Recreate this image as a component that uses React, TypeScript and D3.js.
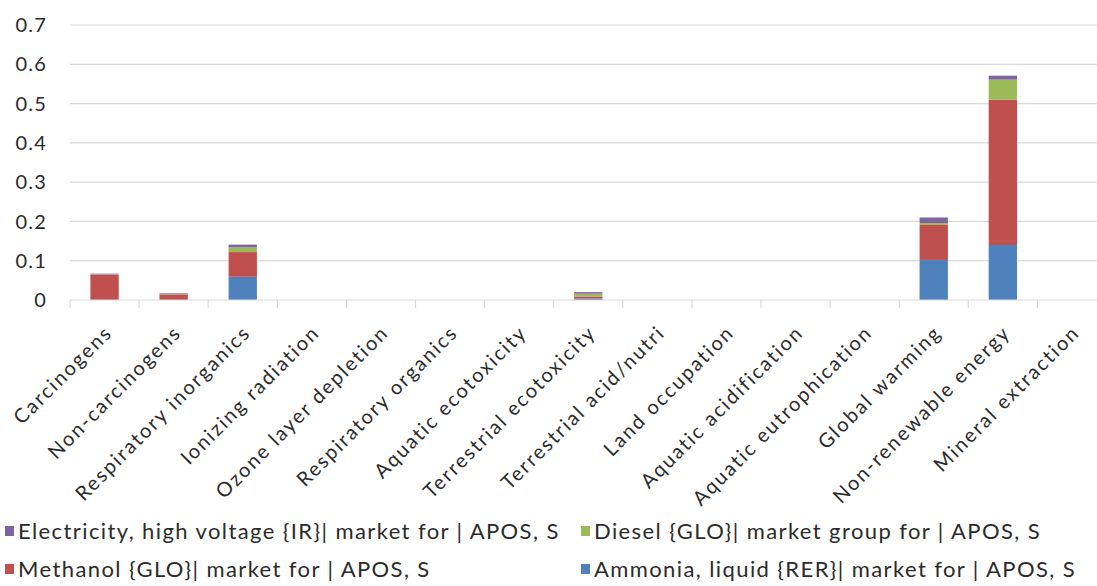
import React, { useEffect } from "react";
import * as d3 from "d3";

const categories = [
  "Carcinogens",
  "Non-carcinogens",
  "Respiratory inorganics",
  "Ionizing radiation",
  "Ozone layer depletion",
  "Respiratory organics",
  "Aquatic ecotoxicity",
  "Terrestrial ecotoxicity",
  "Terrestrial acid/nutri",
  "Land occupation",
  "Aquatic acidification",
  "Aquatic eutrophication",
  "Global warming",
  "Non-renewable energy",
  "Mineral extraction",
];

// Stacked contributions per impact category (bottom to top)
const ammonia = [0, 0, 0.059, 0, 0, 0, 0, 0.004, 0, 0, 0, 0, 0.102, 0.14, 0];
const methanol = [0.064, 0.014, 0.063, 0, 0, 0, 0, 0.005, 0, 0, 0, 0, 0.089, 0.37, 0];
const diesel = [0.001, 0.001, 0.012, 0, 0, 0, 0, 0.007, 0, 0, 0, 0, 0.005, 0.051, 0];
const electricity = [0.002, 0.002, 0.007, 0, 0, 0, 0, 0.004, 0, 0, 0, 0, 0.014, 0.01, 0];

const seriesNames = [
  "Ammonia, liquid {RER}| market for | APOS, S",
  "Methanol {GLO}| market for | APOS, S",
  "Diesel {GLO}| market group for | APOS, S",
  "Electricity, high voltage {IR}| market for | APOS, S",
];
const seriesValues = [ammonia, methanol, diesel, electricity];
const seriesColors = ["#4F81BD", "#C0504D", "#9BBB59", "#8064A2"];

const yTicks = [0, 0.1, 0.2, 0.3, 0.4, 0.5, 0.6, 0.7];
const yTickLabels = ["0", "0.1", "0.2", "0.3", "0.4", "0.5", "0.6", "0.7"];

// Legend order: [series index, column, row]
const legendOrder = [
  [3, 0, 0],
  [2, 1, 0],
  [1, 0, 1],
  [0, 1, 1],
];

const W = 1097;
const H = 586;
const plotLeft = 70;
const bandW = 69.1;
const plotRight = plotLeft + bandW * categories.length;
const plotTop = 25;
const plotBottom = 300;
const textColor = "#2b2b2b";
const font = "Lato, 'DejaVu Sans', sans-serif";

export default function App() {
  useEffect(() => {
    document.body.style.margin = "0";
  }, []);

  const x = d3.scaleBand<string>().domain(categories).range([plotLeft, plotRight]).padding(0);
  const y = d3.scaleLinear().domain([0, 0.7]).range([plotBottom, plotTop]);

  const rows = categories.map((c, i) => {
    const r: Record<string, number | string> = { category: c };
    seriesNames.forEach((n, k) => (r[n] = seriesValues[k][i]));
    return r;
  });
  const stacked = d3.stack<Record<string, number | string>>().keys(seriesNames)(rows as any);

  const barW = x.bandwidth() * 0.41;

  return (
    <svg width={W} height={H} style={{ display: "block", background: "#fff" }} fontFamily={font}>
      {/* gridlines */}
      {yTicks.slice(1).map((t) => (
        <line key={t} x1={plotLeft} x2={W} y1={y(t)} y2={y(t)} stroke="#D9D9D9" strokeWidth={1.2} />
      ))}
      {/* y tick labels */}
      {yTicks.map((t, i) => (
        <text
          key={t}
          x={47}
          y={y(t)}
          dy="0.36em"
          textAnchor="end"
          fontSize={20}
          letterSpacing={1.2}
          fill={textColor}
        >
          {yTickLabels[i]}
        </text>
      ))}
      {/* bars */}
      {stacked.map((s, k) => (
        <g key={s.key} fill={seriesColors[k]}>
          {s.map((d, i) =>
            d[1] - d[0] > 0 ? (
              <rect
                key={i}
                x={(x(categories[i]) as number) + (x.bandwidth() - barW) / 2}
                y={y(d[1])}
                width={barW}
                height={y(d[0]) - y(d[1])}
              />
            ) : null
          )}
        </g>
      ))}
      {/* x axis */}
      <line x1={plotLeft} x2={W} y1={plotBottom} y2={plotBottom} stroke="#D9D9D9" strokeWidth={1.2} />
      {d3.range(categories.length + 1).map((i) => {
        const xx = plotLeft + i * x.bandwidth();
        return <line key={i} x1={xx} x2={xx} y1={plotBottom} y2={plotBottom + 8} stroke="#D9D9D9" strokeWidth={1.2} />;
      })}
      {categories.map((c) => {
        const cx = (x(c) as number) + x.bandwidth() / 2;
        return (
          <text
            key={c}
            transform={`translate(${cx + 4},${plotBottom + 29}) rotate(-45)`}
            textAnchor="end"
            dy="0.35em"
            fontSize={20}
            letterSpacing={2}
            fill={textColor}
          >
            {c}
          </text>
        );
      })}
      {/* legend */}
      {legendOrder.map(([k, col, row]) => {
        const lx = col === 0 ? 5 : 581;
        const ly = row === 0 ? 531 : 569;
        return (
          <g key={k}>
            <rect x={lx} y={ly - 5} width={9} height={10} fill={seriesColors[k]} />
            <text x={lx + 13} y={ly} dy="0.35em" fontSize={22} letterSpacing={1.4} fill={textColor}>
              {seriesNames[k]}
            </text>
          </g>
        );
      })}
    </svg>
  );
}
